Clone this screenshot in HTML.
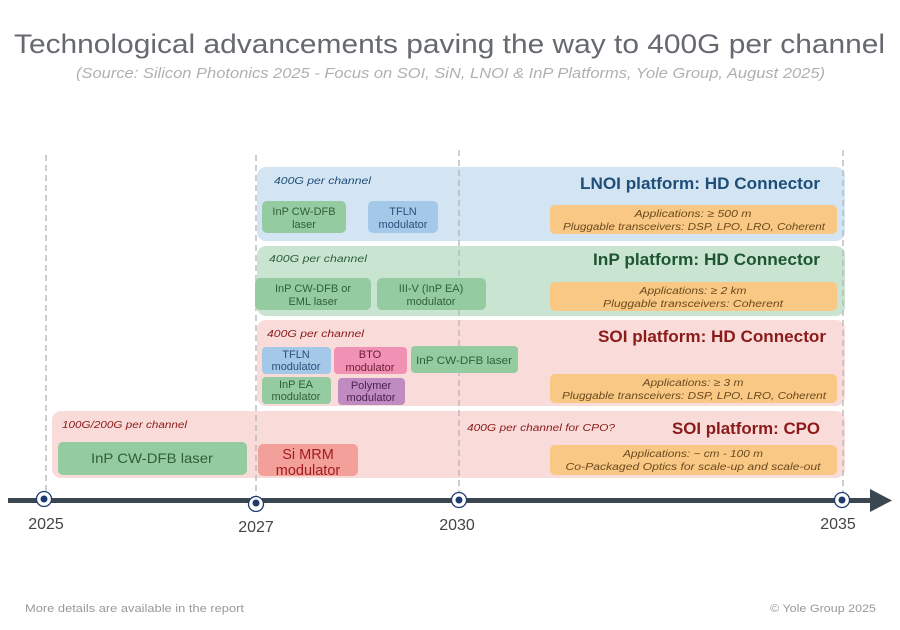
<!DOCTYPE html>
<html><head><meta charset="utf-8"><style>
html,body{margin:0;padding:0;background:#fff;}
svg{display:block;font-family:"Liberation Sans",sans-serif;}
</style></head><body>
<svg width="900" height="630" viewBox="0 0 900 630" xmlns="http://www.w3.org/2000/svg">
<text x="14" y="53" font-size="27" fill="#666a70" textLength="871" lengthAdjust="spacingAndGlyphs">Technological advancements paving the way to 400G per channel</text>
<text x="76" y="78" font-size="14.5" font-style="italic" fill="#b0b0b0" textLength="749" lengthAdjust="spacingAndGlyphs">(Source: Silicon Photonics 2025 - Focus on SOI, SiN, LNOI &amp; InP Platforms, Yole Group, August 2025)</text>

<!-- platform backgrounds -->
<rect x="257" y="167" width="588" height="74" rx="9" fill="#d3e4f3"/>
<rect x="257" y="246" width="588" height="70" rx="9" fill="#c9e5d2"/>
<rect x="257" y="320" width="588" height="86" rx="9" fill="#f9dcd9"/>
<rect x="52" y="411" width="793" height="67" rx="9" fill="#f9dcd9"/>

<g stroke="#b8b8b8" stroke-width="1.5" stroke-dasharray="6,4" opacity="0.9">
<line x1="46" y1="155" x2="46" y2="500"/>
<line x1="256" y1="155" x2="256" y2="500"/>
<line x1="459" y1="150" x2="459" y2="500"/>
<line x1="843" y1="150" x2="843" y2="500"/>
</g>

<!-- LNOI -->
<text x="274" y="184" font-size="10" font-style="italic" fill="#1f4e79" textLength="97" lengthAdjust="spacingAndGlyphs">400G per channel</text>
<text x="820" y="189" font-size="16.5" font-weight="bold" fill="#1f4e79" text-anchor="end" textLength="240" lengthAdjust="spacingAndGlyphs">LNOI platform: HD Connector</text>
<rect x="262" y="201" width="84" height="32" rx="5" fill="#95cba0"/>
<text x="304" y="215" font-size="11" fill="#2f5f3a" text-anchor="middle">InP CW-DFB</text>
<text x="304" y="228" font-size="11" fill="#2f5f3a" text-anchor="middle">laser</text>
<rect x="368" y="201" width="70" height="32" rx="5" fill="#a4c8e8"/>
<text x="403" y="215" font-size="11" fill="#2d4e7a" text-anchor="middle">TFLN</text>
<text x="403" y="228" font-size="11" fill="#2d4e7a" text-anchor="middle">modulator</text>
<rect x="550" y="205" width="287" height="29" rx="5" fill="#f8c884"/>
<text x="693" y="217" font-size="10.5" font-style="italic" fill="#6b4a1e" text-anchor="middle" textLength="117" lengthAdjust="spacingAndGlyphs">Applications: ≥ 500 m</text>
<text x="694" y="230" font-size="10.5" font-style="italic" fill="#6b4a1e" text-anchor="middle" textLength="262" lengthAdjust="spacingAndGlyphs">Pluggable transceivers: DSP, LPO, LRO, Coherent</text>

<!-- InP -->
<text x="269" y="262" font-size="10" font-style="italic" fill="#2f5f3a" textLength="98" lengthAdjust="spacingAndGlyphs">400G per channel</text>
<text x="820" y="265" font-size="16.5" font-weight="bold" fill="#1e5631" text-anchor="end" textLength="227" lengthAdjust="spacingAndGlyphs">InP platform: HD Connector</text>
<rect x="255" y="278" width="116" height="32" rx="5" fill="#95cba0"/>
<text x="313" y="292" font-size="11" fill="#2f5f3a" text-anchor="middle">InP CW-DFB or</text>
<text x="313" y="305" font-size="11" fill="#2f5f3a" text-anchor="middle">EML laser</text>
<rect x="377" y="278" width="109" height="32" rx="5" fill="#95cba0"/>
<text x="431" y="292" font-size="11" fill="#2f5f3a" text-anchor="middle">III-V (InP EA)</text>
<text x="431" y="305" font-size="11" fill="#2f5f3a" text-anchor="middle">modulator</text>
<rect x="550" y="282" width="287" height="29" rx="5" fill="#f8c884"/>
<text x="693" y="294" font-size="10.5" font-style="italic" fill="#6b4a1e" text-anchor="middle" textLength="107" lengthAdjust="spacingAndGlyphs">Applications: ≥ 2 km</text>
<text x="693" y="307" font-size="10.5" font-style="italic" fill="#6b4a1e" text-anchor="middle" textLength="180" lengthAdjust="spacingAndGlyphs">Pluggable transceivers: Coherent</text>

<!-- SOI HD -->
<text x="267" y="337" font-size="10" font-style="italic" fill="#8b1a1a" textLength="97" lengthAdjust="spacingAndGlyphs">400G per channel</text>
<text x="826" y="342" font-size="16.5" font-weight="bold" fill="#8b1a1a" text-anchor="end" textLength="228" lengthAdjust="spacingAndGlyphs">SOI platform: HD Connector</text>
<rect x="262" y="347" width="69" height="27" rx="4" fill="#a4c8e8"/>
<text x="296" y="358" font-size="11" fill="#2d4e7a" text-anchor="middle">TFLN</text>
<text x="296" y="370" font-size="11" fill="#2d4e7a" text-anchor="middle">modulator</text>
<rect x="334" y="347" width="73" height="27" rx="4" fill="#f192b4"/>
<text x="370" y="358" font-size="11" fill="#6a1a35" text-anchor="middle">BTO</text>
<text x="370" y="371" font-size="11" fill="#6a1a35" text-anchor="middle">modulator</text>
<rect x="411" y="346" width="107" height="27" rx="4" fill="#95cba0"/>
<text x="464" y="364" font-size="11" fill="#2f5f3a" text-anchor="middle" textLength="96" lengthAdjust="spacingAndGlyphs">InP CW-DFB laser</text>
<rect x="262" y="377" width="69" height="27" rx="4" fill="#95cba0"/>
<text x="296" y="388" font-size="11" fill="#2f5f3a" text-anchor="middle">InP EA</text>
<text x="296" y="400" font-size="11" fill="#2f5f3a" text-anchor="middle">modulator</text>
<rect x="338" y="378" width="67" height="27" rx="4" fill="#c08bc0"/>
<text x="371" y="389" font-size="11" fill="#4a2150" text-anchor="middle">Polymer</text>
<text x="371" y="401" font-size="11" fill="#4a2150" text-anchor="middle">modulator</text>
<rect x="550" y="374" width="287" height="29" rx="5" fill="#f8c884"/>
<text x="693" y="386" font-size="10.5" font-style="italic" fill="#6b4a1e" text-anchor="middle" textLength="101" lengthAdjust="spacingAndGlyphs">Applications: ≥ 3 m</text>
<text x="694" y="399" font-size="10.5" font-style="italic" fill="#6b4a1e" text-anchor="middle" textLength="264" lengthAdjust="spacingAndGlyphs">Pluggable transceivers: DSP, LPO, LRO, Coherent</text>

<!-- SOI CPO -->
<text x="62" y="428" font-size="10" font-style="italic" fill="#8b1a1a" textLength="125" lengthAdjust="spacingAndGlyphs">100G/200G per channel</text>
<text x="467" y="431" font-size="10" font-style="italic" fill="#8b1a1a" textLength="148" lengthAdjust="spacingAndGlyphs">400G per channel for CPO?</text>
<text x="820" y="434" font-size="16.5" font-weight="bold" fill="#8b1a1a" text-anchor="end" textLength="148" lengthAdjust="spacingAndGlyphs">SOI platform: CPO</text>
<rect x="58" y="442" width="189" height="33" rx="5" fill="#95cba0"/>
<text x="152" y="463" font-size="14" fill="#2f5f3a" text-anchor="middle" textLength="122" lengthAdjust="spacingAndGlyphs">InP CW-DFB laser</text>
<rect x="258" y="444" width="100" height="32" rx="5" fill="#f4a09a"/>
<text x="308" y="459" font-size="14.5" fill="#a01c1c" text-anchor="middle">Si MRM</text>
<text x="308" y="475" font-size="14.5" fill="#a01c1c" text-anchor="middle">modulator</text>
<rect x="550" y="445" width="287" height="30" rx="5" fill="#f8c884"/>
<text x="693" y="457" font-size="10.5" font-style="italic" fill="#6b4a1e" text-anchor="middle" textLength="140" lengthAdjust="spacingAndGlyphs">Applications: ~ cm - 100 m</text>
<text x="693" y="470" font-size="10.5" font-style="italic" fill="#6b4a1e" text-anchor="middle" textLength="255" lengthAdjust="spacingAndGlyphs">Co-Packaged Optics for scale-up and scale-out</text>

<!-- axis -->
<rect x="8" y="498" width="864" height="5" fill="#3a4750"/>
<polygon points="870,489 892,500.5 870,512" fill="#3a4750"/>
<g fill="#fff" stroke="#1f3b6e" stroke-width="1.3">
<circle cx="44" cy="499" r="7.5"/>
<circle cx="256" cy="504" r="7.5"/>
<circle cx="459" cy="500" r="7.5"/>
<circle cx="842" cy="500" r="7.5"/>
</g>
<g fill="#1f3b6e">
<circle cx="44" cy="499" r="3.5"/>
<circle cx="256" cy="503" r="3.5"/>
<circle cx="459" cy="500" r="3.5"/>
<circle cx="842" cy="500" r="3.5"/>
</g>
<g font-size="16" fill="#444" text-anchor="middle">
<text x="46" y="529">2025</text>
<text x="256" y="532">2027</text>
<text x="457" y="530">2030</text>
<text x="838" y="529">2035</text>
</g>

<text x="25" y="612" font-size="11" fill="#999" textLength="219" lengthAdjust="spacingAndGlyphs">More details are available in the report</text>
<text x="876" y="612" font-size="11" fill="#999" text-anchor="end" textLength="106" lengthAdjust="spacingAndGlyphs">© Yole Group 2025</text>
</svg>
</body></html>
